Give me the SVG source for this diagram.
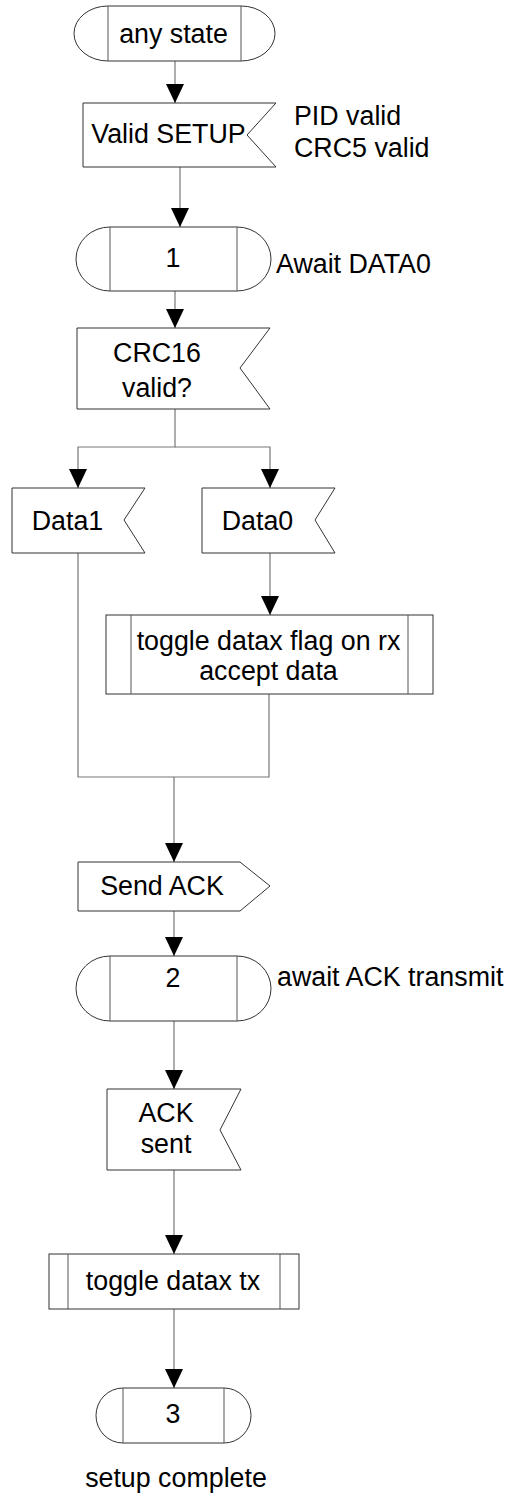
<svg xmlns="http://www.w3.org/2000/svg" width="517" height="1496" viewBox="0 0 517 1496">
<style>
.s{fill:#fff;stroke:#333;stroke-width:1}
.in{stroke:#555;stroke-width:1;fill:none}
.c{fill:none;stroke:#777;stroke-width:1.2}
text{font-family:"Liberation Sans",Arial,sans-serif;font-size:26.8px;fill:#000}
.m{text-anchor:middle}
</style>
<defs>
<marker id="ah" markerUnits="userSpaceOnUse" markerWidth="19" markerHeight="18" refX="19" refY="9" orient="auto" viewBox="0 0 19 18">
<path d="M0,0 L19,9 L0,18 z" fill="#000"/>
</marker>
</defs>
<rect width="517" height="1496" fill="#fff"/>
<g id="connectors">
<path class="c" d="M175,61 V103" marker-end="url(#ah)"/>
<path class="c" d="M180,167 V227" marker-end="url(#ah)"/>
<path class="c" d="M175,291 V328" marker-end="url(#ah)"/>
<path class="c" d="M175,409 V447 H78 V488" marker-end="url(#ah)"/>
<path class="c" d="M175,447 H270 V488" marker-end="url(#ah)"/>
<path class="c" d="M270,553 V615" marker-end="url(#ah)"/>
<path class="c" d="M78,553 V777 H269 V694"/>
<path class="c" d="M174,777 V862" marker-end="url(#ah)"/>
<path class="c" d="M174,911 V956" marker-end="url(#ah)"/>
<path class="c" d="M174,1021 V1089" marker-end="url(#ah)"/>
<path class="c" d="M174,1170 V1254" marker-end="url(#ah)"/>
<path class="c" d="M174,1309 V1388" marker-end="url(#ah)"/>
</g>
<g id="any-state">
<path class="s" d="M108,6 H241 A34,27.5 0 0 1 241,61 H108 A34,27.5 0 0 1 108,6 Z"/>
<path class="in" d="M108,6 V61 M241,6 V61"/>
<text class="m" x="173.5" y="43">any state</text>
</g>
<g id="valid-setup">
<polygon class="s" points="83,103 276,103 247,135 276,167 83,167"/>
<text class="m" x="168.5" y="143">Valid SETUP</text>
<text x="294" y="125">PID valid</text>
<text x="294" y="157">CRC5 valid</text>
</g>
<g id="state-1">
<path class="s" d="M110,227 H237 A34,32 0 0 1 237,291 H110 A34,32 0 0 1 110,227 Z"/>
<path class="in" d="M110,227 V291 M237,227 V291"/>
<text class="m" x="173" y="267">1</text>
<text x="276" y="273">Await DATA0</text>
</g>
<g id="crc16">
<polygon class="s" points="77,328 270,328 240,368 270,409 77,409"/>
<text class="m" x="157" y="362">CRC16</text>
<text class="m" x="157" y="397">valid?</text>
</g>
<g id="data1">
<polygon class="s" points="12,488 145,488 124,520 145,553 12,553"/>
<text class="m" x="67.5" y="530">Data1</text>
</g>
<g id="data0">
<polygon class="s" points="202,488 335,488 315,520 335,553 202,553"/>
<text class="m" x="257.5" y="530">Data0</text>
</g>
<g id="toggle-rx">
<rect class="s" x="106" y="615" width="327" height="79"/>
<path class="in" d="M131,615 V694 M408,615 V694"/>
<text class="m" x="268.5" y="650">toggle datax flag on rx</text>
<text class="m" x="268.5" y="680">accept data</text>
</g>
<g id="send-ack">
<polygon class="s" points="78,862 240,862 270,886 240,911 78,911"/>
<text class="m" x="162" y="895">Send ACK</text>
</g>
<g id="state-2">
<path class="s" d="M110,956 H237 A34,32.5 0 0 1 237,1021 H110 A34,32.5 0 0 1 110,956 Z"/>
<path class="in" d="M110,956 V1021 M237,956 V1021"/>
<text class="m" x="173" y="987">2</text>
<text x="277" y="986">await ACK transmit</text>
</g>
<g id="ack-sent">
<polygon class="s" points="107,1089 241,1089 220,1130 241,1170 107,1170"/>
<text class="m" x="166" y="1122">ACK</text>
<text class="m" x="166" y="1153">sent</text>
</g>
<g id="toggle-tx">
<rect class="s" x="49" y="1254" width="250" height="55"/>
<path class="in" d="M68,1254 V1309 M280,1254 V1309"/>
<text class="m" x="173" y="1290">toggle datax tx</text>
</g>
<g id="state-3">
<path class="s" d="M123,1388 H224 A27,27.5 0 0 1 224,1443 H123 A27,27.5 0 0 1 123,1388 Z"/>
<path class="in" d="M123,1388 V1443 M224,1388 V1443"/>
<text class="m" x="173" y="1423">3</text>
<text class="m" x="176" y="1487">setup complete</text>
</g>
</svg>
